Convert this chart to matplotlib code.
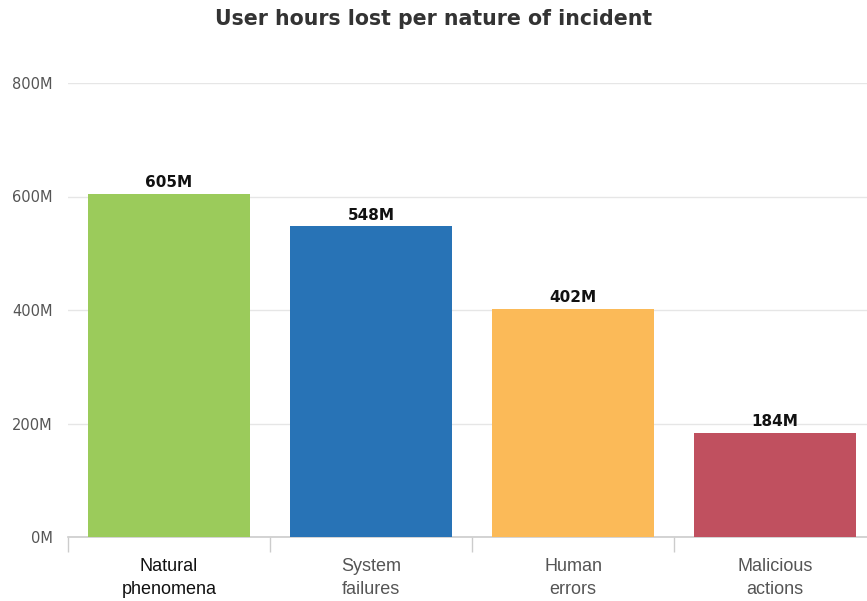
import matplotlib
matplotlib.use("Agg")
import matplotlib.pyplot as plt
from matplotlib.ticker import FuncFormatter

categories = ["Natural\nphenomena", "System\nfailures", "Human\nerrors", "Malicious\nactions"]
values = [605, 548, 402, 184]
colors = ["#9BCB5B", "#2873B6", "#FBBA58", "#C0505F"]
yticks = [0, 200, 400, 600, 800]
title = "User hours lost per nature of incident"

plt.rcParams['font.family'] = ['Liberation Sans', 'DejaVu Sans']

fig = plt.figure(figsize=(8.67, 6.01), dpi=100)
ax = fig.add_axes([68/867, 1-537/601, 808/867, (537-83)/601])

x = list(range(len(categories)))
bars = ax.bar(x, values, width=0.8, color=colors, zorder=3)
for xi, v in zip(x, values):
    ax.text(xi, v + 6, f"{v}M", ha='center', va='bottom', fontsize=11,
            fontweight='bold', color='#111111', family='DejaVu Sans')

ax.set_xlim(-0.5, len(categories) - 0.5)
ax.set_ylim(0, 800)
ax.set_yticks(yticks)
ax.yaxis.set_major_formatter(FuncFormatter(lambda v, p: f"{int(v)}M"))
ax.grid(axis='y', color='#E6E6E6', linewidth=1, zorder=0)
for s in ['top', 'right', 'left']:
    ax.spines[s].set_visible(False)
ax.spines['bottom'].set_color('#CCCCCC')
ax.spines['bottom'].set_linewidth(1.2)
ax.tick_params(axis='y', length=0, pad=11, labelsize=10.5, labelcolor='#555555')
for lab in ax.get_yticklabels():
    lab.set_family('DejaVu Sans')

ax.set_xticks(x)
ax.set_xticklabels(categories, fontsize=13, color='#555555', linespacing=1.5)
ax.get_xticklabels()[0].set_color('#111111')
ax.tick_params(axis='x', length=0, pad=15)
# category boundary ticks
ax.set_xticks([i - 0.5 for i in range(len(categories) + 1)], minor=True)
ax.tick_params(axis='x', which='minor', length=11, color='#CCCCCC', width=1)

fig.text(0.5, 1 - 19/601, title, ha='center', va='center', fontsize=14.8,
         fontweight='bold', color='#333333', family='DejaVu Sans')

fig.savefig("out.png", dpi=100)
